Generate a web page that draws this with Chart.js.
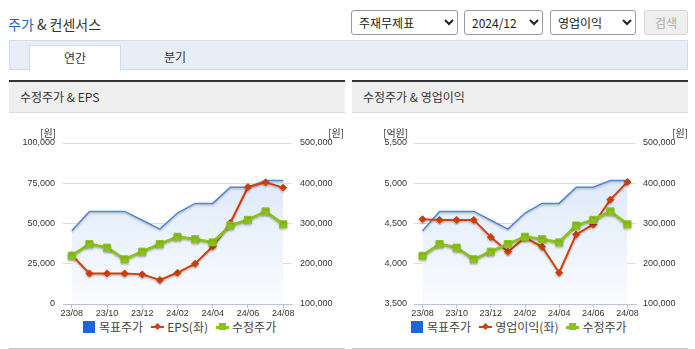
<!DOCTYPE html>
<html>
<head>
<meta charset="utf-8">
<script src="https://cdn.jsdelivr.net/npm/chart.js@4.4.1/dist/chart.umd.min.js"></script>
<style>
body { margin:0; background:#fff; font-family:"Noto Sans CJK KR", sans-serif; color:#333; }
#page { position:relative; width:695px; height:349px; overflow:hidden; }
.title { position:absolute; left:8px; top:14px; font-size:14px; line-height:20px; color:#333; }
.title b { color:#2563c9; font-weight:normal; }
select { position:absolute; top:10px; height:25px; font-size:12px; font-family:"Noto Sans CJK KR", sans-serif; border:1px solid #999; border-radius:3px; background:#fff; color:#222; padding:0 3px; }
.btn { position:absolute; left:644px; top:10px; width:42px; height:23px; border:1px solid #d6d6d6; border-radius:3px; background:#efefef; color:#aaa; font-size:12px; line-height:23px; text-align:center; }
.tabbar { position:absolute; left:9px; top:40px; width:677px; height:28px; background:#e8eef8; border:1px solid #d3dcea; }
.tab { position:absolute; top:45px; font-size:12px; line-height:24px; text-align:center; }
.tab.on { left:29px; width:90px; height:25px; background:#fff; border:1px solid #d3dcea; border-bottom:none; }
.panel { position:absolute; top:80px; width:336px; height:266px; border-top:2px solid #333; border-bottom:3px solid #c8c8c8; }
.panel .hd { height:30px; background:#efefef; border-bottom:1px solid #dcdcdc; font-size:12px; line-height:30px; padding-left:11px; }
.panel canvas { position:absolute; left:0; top:31px; }
.unit { position:absolute; top:126px; font-size:10px; line-height:14px; color:#333; }
.lg { position:absolute; top:318px; font-size:12px; line-height:18px; color:#444; white-space:nowrap; display:flex; align-items:center; }
.box { display:inline-block; width:12px; height:12px; background:#1f66dc; margin-right:4px; }
.mk { position:relative; display:inline-block; width:13px; height:12px; margin:0 3px 0 8px; }
.mk:before { content:''; position:absolute; left:0; right:0; top:5px; height:2px; background:#d2400a; }
.mk i { position:absolute; left:4px; top:3px; width:5px; height:5px; background:#d2400a; transform:rotate(45deg); }
.mk.g:before { top:5px; height:3px; background:#8cc21c; }
.mk.g i { left:3px; top:2px; width:7px; height:7px; background:#8cc21c; transform:none; }
</style>
</head>
<body>
<div id="page">
  <div class="title"><b>주가</b> &amp; 컨센서스</div>
  <select style="left:351px; width:107px;"><option>주재무제표</option></select>
  <select style="left:464px; width:79px;"><option>2024/12</option></select>
  <select style="left:550px; width:86px;"><option>영업이익</option></select>
  <div class="btn">검색</div>

  <div class="tabbar"></div>
  <div class="tab on">연간</div>
  <div class="tab" style="left:150px; width:50px;">분기</div>

  <div class="panel" style="left:9px;">
    <div class="hd">수정주가 &amp; EPS</div>
    <canvas id="eps-chart" width="336" height="205"></canvas>
  </div>
  <div class="panel" style="left:352px;">
    <div class="hd">수정주가 &amp; 영업이익</div>
    <canvas id="op-chart" width="336" height="205"></canvas>
  </div>

  <div class="unit" style="left:40px;">[원]</div>
  <div class="unit" style="left:328px;">[원]</div>
  <div class="unit" style="left:383px;">[억원]</div>
  <div class="unit" style="left:672px;">[원]</div>

  <div class="lg" style="left:83px;">
    <span class="box"></span>목표주가<span class="mk"><i></i></span>EPS(좌)<span class="mk g"><i></i></span>수정주가
  </div>
  <div class="lg" style="left:411px;">
    <span class="box"></span>목표주가<span class="mk"><i></i></span>영업이익(좌)<span class="mk g"><i></i></span>수정주가
  </div>
</div>

<script>
// months shown on the x axis (every 2nd label is printed)
const months = ['23/08', '23/09', '23/10', '23/11', '23/12', '24/01', '24/02', '24/03', '24/04', '24/05', '24/06', '24/07', '24/08'];

// right axis (원)
const targetPrice = [282000, 330000, 330000, 330000, 308000, 286000, 326000, 350000, 350000, 390000, 390000, 407000, 407000];
const adjPrice = [220000, 249000, 240000, 211000, 230000, 249000, 267000, 261000, 253000, 295000, 309000, 330000, 298000];

// left axis values
const eps = [30400, 19000, 19000, 19000, 18400, 14900, 19400, 25000, 35700, 50400, 72700, 75600, 72300];
const opProfit = [4554, 4545, 4545, 4545, 4331, 4149, 4326, 4211, 3888, 4364, 4488, 4797, 5017];

const tickFont = { family: 'Liberation Sans', size: 9 };

function fmt(v) {
    return Number(v).toLocaleString('en-US');
}

function fillGradient(context) {
    const area = context.chart.chartArea;
    if (!area) return 'rgba(220,232,248,0.8)';
    const g = context.chart.ctx.createLinearGradient(0, area.top + 30, 0, area.bottom);
    g.addColorStop(0, '#dde9f9');
    g.addColorStop(1, '#fafcff');
    return g;
}

// soft shadow under the lines
const shadowPlugin = {
    id: 'lineShadow',
    beforeDatasetDraw(chart) {
        const ctx = chart.ctx;
        ctx.save();
        ctx.shadowColor = 'rgba(0,0,0,0.22)';
        ctx.shadowBlur = 2;
        ctx.shadowOffsetY = 1.5;
    },
    afterDatasetDraw(chart) {
        chart.ctx.restore();
    }
};

function makeChart(canvasId, leftData, leftLabel, leftMin, leftMax, leftStep, leftWidth, rightWidth, pad) {
    const ctx = document.querySelector(canvasId).getContext('2d');
    return new Chart(ctx, {
        type: 'line',
        data: {
            labels: months,
            datasets: [
                {
                    label: '목표주가',
                    data: targetPrice,
                    yAxisID: 'y1',
                    borderColor: '#4f82d8',
                    borderWidth: 1.5,
                    pointRadius: 0,
                    fill: 'start',
                    backgroundColor: fillGradient,
                    tension: 0,
                    order: 3
                },
                {
                    label: leftLabel,
                    data: leftData,
                    yAxisID: 'y',
                    borderColor: '#d2400a',
                    backgroundColor: '#d2400a',
                    borderWidth: 2,
                    pointStyle: 'rectRot',
                    pointRadius: 3.5,
                    pointBorderWidth: 1,
                    fill: false,
                    order: 2
                },
                {
                    label: '수정주가',
                    data: adjPrice,
                    yAxisID: 'y1',
                    borderColor: '#8cc21c',
                    backgroundColor: '#8cc21c',
                    borderWidth: 3,
                    pointStyle: 'rect',
                    pointRadius: 5,
                    pointBorderWidth: 1,
                    fill: false,
                    order: 1
                }
            ]
        },
        options: {
            responsive: false,
            animation: false,
            layout: { padding: { top: 30, left: 0, right: 0, bottom: 0 } },
            plugins: {
                legend: { display: false },
                tooltip: { enabled: false }
            },
            scales: {
                x: {
                    offset: true,
                    afterFit: function(scale) { scale.height = 14; },
                    grid: {
                        drawOnChartArea: false,
                        tickLength: 4,
                        color: function(c) { return c.index % 2 === 0 ? '#b9c3d3' : 'rgba(0,0,0,0)'; }
                    },
                    border: { color: '#b9c3d3' },
                    ticks: {
                        autoSkip: false,
                        maxRotation: 0,
                        padding: 0,
                        color: '#333',
                        font: tickFont,
                        callback: function(v, i) { return i % 2 === 0 ? months[i] : ''; }
                    }
                },
                y: {
                    position: 'left',
                    min: leftMin,
                    max: leftMax,
                    afterFit: function(scale) { scale.width = leftWidth; },
                    grid: { color: '#dcdcdc', drawTicks: false },
                    border: { display: false },
                    ticks: { stepSize: leftStep, padding: pad, color: '#333', font: tickFont, callback: fmt }
                },
                y1: {
                    position: 'right',
                    min: 100000,
                    max: 500000,
                    afterFit: function(scale) { scale.width = rightWidth; },
                    grid: { display: false, drawTicks: false },
                    border: { display: false },
                    ticks: { stepSize: 100000, padding: pad, color: '#333', font: tickFont, callback: fmt }
                }
            }
        },
        plugins: [shadowPlugin]
    });
}

var epsChart = makeChart('#eps-chart', eps, 'EPS(좌)', 0, 100000, 25000, 54, 53, 8);
var opChart = makeChart('#op-chart', opProfit, '영업이익(좌)', 3500, 5500, 500, 62, 52, 7);
</script>
</body>
</html>
